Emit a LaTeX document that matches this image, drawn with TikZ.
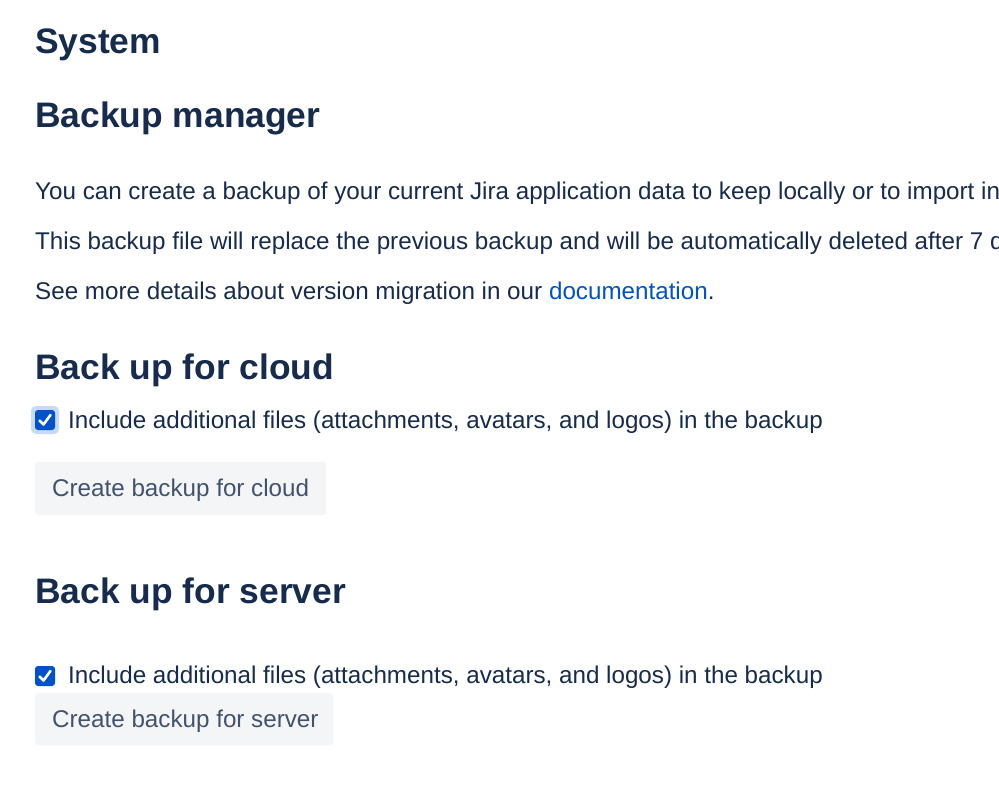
\documentclass[tikz,border=0pt]{standalone}
\usepackage{fontspec}
\setmainfont{Liberation Sans}
\definecolor{navy}{HTML}{172B4D}
\definecolor{linkb}{HTML}{0052CC}
\definecolor{btnbg}{HTML}{F4F5F7}
\definecolor{btntx}{HTML}{42526E}
\definecolor{ring}{HTML}{C8DAF5}
\tikzset{
 head/.style={anchor=west,inner sep=0pt,text=navy,font=\fontsize{35.4}{42}\selectfont\bfseries},
 body/.style={anchor=west,inner sep=0pt,text=navy,font=\fontsize{24.2}{29}\selectfont},
 btn/.style={anchor=west,inner sep=0pt,text=btntx,font=\fontsize{24.2}{29}\selectfont},
 btnbox/.style={fill=btnbg,rounded corners=3pt},
 cbox/.style={fill=linkb,rounded corners=3pt},
 tick/.style={draw=white,line width=2.6pt,line cap=round,line join=round}
}
\begin{document}
\begin{tikzpicture}[x=1pt,y=-1pt]
\useasboundingbox (0,0) rectangle (999,795);
\clip (0,0) rectangle (999,795);
\fill[white] (0,0) rectangle (999,795);
\node[head] (sys) at (35,45) {System};
\node[head] (bm) at (35,118) {Backup manager};
\node[body] (p1) at (35,193) {You can create a backup of your current Jira application data to keep locally or to import into cloud.};
\node[body] (p2) at (35,243) {This backup file will replace the previous backup and will be automatically deleted after 7 days.};
\node[body] (p3) at (35,293) {See more details about version migration in our \textcolor{linkb}{documentation}.};
\node[head] (bc) at (35,370) {Back up for cloud};
\fill[ring,rounded corners=5pt] (31,406) rectangle (59,434);
\fill[cbox] (35,410) rectangle (55,430);
\draw[tick] (39.5,420.5) -- (43.5,424.5) -- (50.5,415);
\node[body] (c1) at (68,422) {Include additional files (attachments, avatars, and logos) in the backup};
\fill[btnbox] (35,462) rectangle (326,515);
\node[btn] (b1) at (52,490.5) {Create backup for cloud};
\node[head] (bs) at (35,594) {Back up for server};
\fill[cbox] (35,666) rectangle (55,686);
\draw[tick] (39.5,676.5) -- (43.5,680.5) -- (50.5,671);
\node[body] (c2) at (68,677) {Include additional files (attachments, avatars, and logos) in the backup};
\fill[btnbox] (35,693) rectangle (333,745);
\node[btn] (b2) at (52,721) {Create backup for server};
\end{tikzpicture}
\end{document}
